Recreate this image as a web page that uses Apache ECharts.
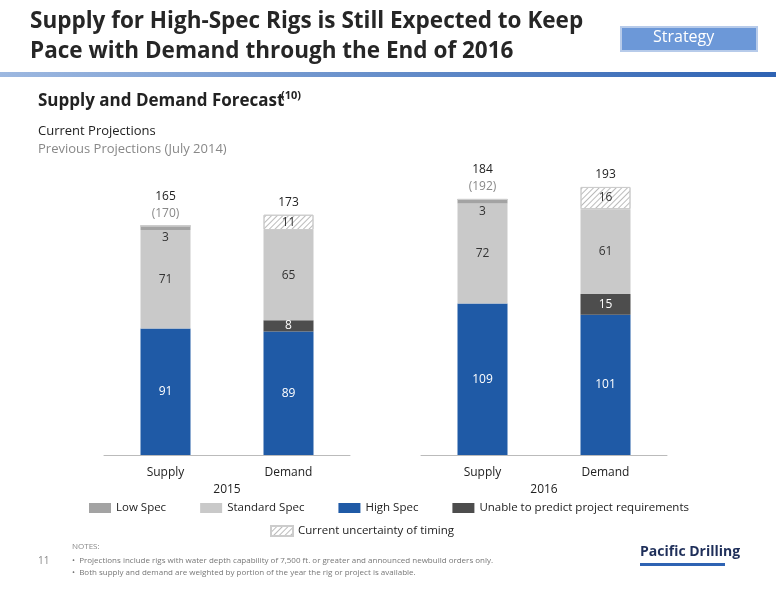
<!DOCTYPE html>
<html><head><meta charset="utf-8">
<script src="https://cdn.jsdelivr.net/npm/echarts@6/dist/echarts.min.js"></script>
<style>body{margin:0;background:#fff}#c{width:776px;height:600px}</style></head>
<body><div id="c"></div>
<script>
const categories = ['Supply','Demand'];
const years = ['2015','2016'];
const highSpec = [[91,89],[109,101]];
const unable = [[0,8],[0,15]];
const standardSpec = [[71,65],[72,61]];
const lowSpec = [[3,0],[3,0]];
const uncertainty = [[0,11],[0,16]];
const totals = [[165,173],[184,193]];
const prevTotals = [[170,null],[192,null]];

const F = '"Open Sans", "Liberation Sans", sans-serif';
const chart = echarts.init(document.getElementById('c'));
const grids = [{left:104,width:246,top:155,bottom:145},{left:421,width:246,top:155,bottom:145}];
const series = [];
const lbl = (color)=>({show:true,color:color,fontFamily:F,fontSize:12,formatter:p=>p.value?p.value:''});
years.forEach((y,i)=>{
  const base = {type:'bar',stack:'s'+i,xAxisIndex:i,yAxisIndex:i,barWidth:50};
  series.push({...base,name:'High Spec',data:highSpec[i],itemStyle:{color:'#1F5AA6'},label:lbl('#fff')});
  series.push({...base,name:'Unable to predict project requirements',data:unable[i],itemStyle:{color:'#4D4D4D'},label:lbl('#fff')});
  series.push({...base,name:'Standard Spec',data:standardSpec[i],itemStyle:{color:'#C9C9C9'},label:lbl('#333')});
  series.push({...base,name:'Low Spec',data:lowSpec[i],itemStyle:{color:'#A3A3A3'},label:{...lbl('#333'),position:'bottom',distance:2}});
  series.push({...base,name:'Current uncertainty of timing',data:uncertainty[i],
    itemStyle:{color:'#fff',borderColor:'#ccc',borderWidth:1,decal:{symbol:'rect',color:'#bbb',dashArrayX:[1,0],dashArrayY:[1,3],rotation:-Math.PI/4}},
    label:lbl('#333')});
  series.push({...base,name:'total',data:[0,0],itemStyle:{color:'transparent'},
    label:{show:true,position:'top',distance:4,fontFamily:F,fontSize:12,
      formatter:p=>{const t=totals[i][p.dataIndex],pv=prevTotals[i][p.dataIndex];return pv?`{a|${t}}\n{b|(${pv})}`:`{a|${t}}`;},
      rich:{a:{color:'#222',fontFamily:F,fontSize:12,lineHeight:17},b:{color:'#888',fontFamily:F,fontSize:12,lineHeight:17}}}});
});
chart.setOption({
  animation:false,
  grid:grids,
  xAxis:grids.map((g,i)=>({type:'category',gridIndex:i,data:categories,axisTick:{show:false},
    axisLine:{lineStyle:{color:'#bbb'}},axisLabel:{color:'#222',fontFamily:F,fontSize:12,margin:12},
    name:years[i],nameLocation:'middle',nameGap:29,nameTextStyle:{color:'#222',fontFamily:F,fontSize:12}})),
  yAxis:grids.map((g,i)=>({type:'value',gridIndex:i,min:0,max:216,show:false,splitLine:{show:false}})),
  legend:[{data:['Low Spec','Standard Spec','High Spec','Unable to predict project requirements'],left:84,top:497,itemWidth:22,itemHeight:10,itemGap:34,
     textStyle:{fontFamily:F,fontSize:11.5,color:'#222'},icon:'rect',selectedMode:false},
    {data:['Current uncertainty of timing'],left:265,top:520,itemWidth:22,itemHeight:10,textStyle:{fontFamily:F,fontSize:11.5,color:'#222'},icon:'rect',selectedMode:false}],
  series:series,
  graphic:[
    {type:'text',left:30,top:7,style:{text:'Supply for High-Spec Rigs is Still Expected to Keep\nPace with Demand through the End of 2016',fontFamily:F,fontWeight:'bold',fontSize:22.5,lineHeight:30,fill:'#262626'}},
    {type:'rect',left:0,top:72,shape:{width:776,height:5},style:{fill:new echarts.graphic.LinearGradient(0,0,1,0,[{offset:0,color:'#9DB8E0'},{offset:1,color:'#2E63B3'}])}},
    {type:'rect',left:620,top:26,shape:{width:136,height:24},style:{fill:'#6C98D8',stroke:'#B7CBEA',lineWidth:2}},
    {type:'text',left:653,top:29,style:{text:'Strategy',fontFamily:F,fontSize:16,fill:'#fff'}},
    {type:'text',left:38,top:93,style:{text:'Supply and Demand Forecast',fontFamily:F,fontWeight:'bold',fontSize:17,fill:'#222'}},
    {type:'text',left:281,top:90,style:{text:'(10)',fontFamily:F,fontWeight:'bold',fontSize:11,fill:'#222'}},
    {type:'text',left:38,top:125,style:{text:'Current Projections',fontFamily:F,fontSize:13,fill:'#222'}},
    {type:'text',left:38,top:143,style:{text:'Previous Projections (July 2014)',fontFamily:F,fontSize:13,fill:'#888'}},
    {type:'text',left:38,top:556,style:{text:'11',fontFamily:F,fontSize:10,fill:'#888'}},
    {type:'text',left:72,top:543,style:{text:'NOTES:',fontFamily:F,fontSize:8,fill:'#888',textDecoration:'underline'}},
    {type:'text',left:72,top:555,style:{text:'•  Projections include rigs with water depth capability of 7,500 ft. or greater and announced newbuild orders only.\n•  Both supply and demand are weighted by portion of the year the rig or project is available.',fontFamily:F,fontSize:8,lineHeight:12,fill:'#777'}},
    {type:'text',left:640,top:545,style:{text:'Pacific Drilling',fontFamily:F,fontWeight:'bold',fontSize:14,fill:'#1F2F5A'}},
    {type:'rect',left:640,top:563,shape:{width:85,height:3},style:{fill:'#2E63B3'}}
  ]
});
</script></body></html>
